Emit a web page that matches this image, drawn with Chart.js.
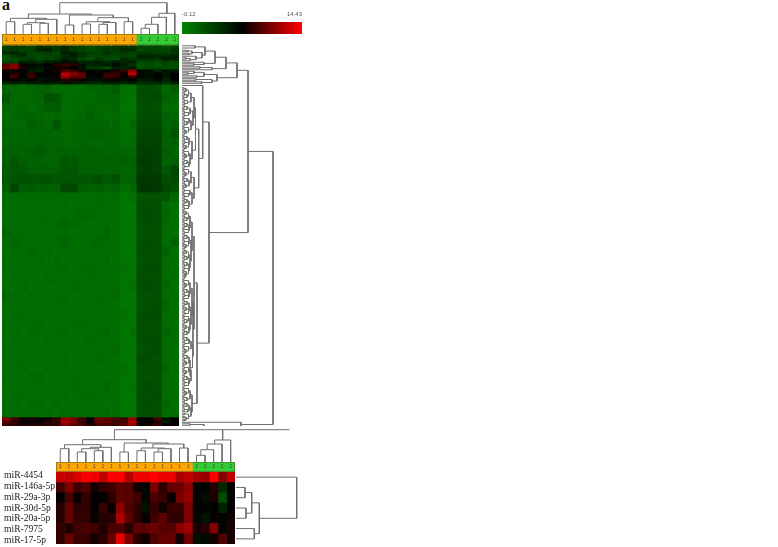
<!DOCTYPE html>
<html>
<head>
<meta charset="utf-8">
<title>miRNA heatmaps</title>
<script src="https://cdn.jsdelivr.net/npm/chart.js@4/dist/chart.umd.min.js"></script>
<style>
    html, body { margin: 0; padding: 0; background: #fff; width: 778px; height: 547px; overflow: hidden; }
    canvas { position: absolute; }
    #panel-letter { position: absolute; left: 2px; top: -4px; font: bold 16px "Liberation Serif", serif; color: #111; }
</style>
</head>
<body>
<div id="panel-letter">a</div>
<script>
// Data. Heat values are in the colour bar's units.
const scaleMin = -0.12;
const scaleMax = 14.43;

const sampleGroups = ['1','1','1','1','1','1','1','1','1','1','1','1','1','1','1','1','2','2','2','2','2'];
const groupColors = { '1': '#ffa500', '2': '#32cd32' };

const mirnaLabels = ['miR-4454', 'miR-146a-5p', 'miR-29a-3p', 'miR-30d-5p', 'miR-20a-5p', 'miR-7975', 'miR-17-5p'];
const mirnaValues = [
    [12.9,12.6,13.4,14.2,14.0,12.6,14.4,14.4,12.3,14.0,13.9,14.4,13.9,13.9,11.9,12.6,11.7,11.5,14.4,10.9,12.6],
    [9.0,10.8,9.0,9.4,7.8,8.6,9.0,9.8,9.6,7.6,6.6,10.6,8.4,10.0,10.2,11.2,6.9,6.9,8.2,4.6,7.0],
    [7.2,9.2,7.4,8.6,7.2,7.2,8.4,9.8,9.6,9.0,6.6,9.2,8.8,7.3,10.6,11.4,7.0,6.4,8.0,2.6,7.0],
    [8.2,10.0,8.4,8.6,7.2,8.8,7.4,11.2,9.4,8.4,6.0,8.6,7.6,8.8,8.8,10.8,7.0,6.8,7.0,5.2,7.1],
    [8.2,10.0,8.6,8.6,7.4,8.2,8.2,12.0,9.8,8.4,7.2,9.0,9.8,8.4,8.6,10.8,6.8,6.0,7.4,6.9,7.6],
    [8.6,8.0,9.0,9.2,9.0,8.0,9.2,9.4,8.2,9.8,9.8,10.2,9.6,9.6,11.0,11.8,7.8,8.2,10.8,7.0,7.8],
    [8.6,10.2,8.8,8.8,7.8,8.4,10.0,13.6,10.6,8.4,7.6,9.4,10.0,10.0,7.8,10.4,6.4,6.6,7.6,9.4,7.8]
];

// how many tree leaves each row of heatValues covers
const heatSpans = [2,2,2,2,2,2,2,2,2,2,2,2,2,
    6,6,6,6,6,6,6,6,6,6,6,6,6,6,6,6,6,6,6,6,6,6,6,6,6,6,6,6,6,6,6,6,6,6,6,6,6,
    2,2,2];
const heatValues = [
    [3.5,3.8,3.4,3.0,4.6,4.5,3.8,5.0,3.4,3.6,2.8,3.2,3.6,3.8,4.4,4.0,3.2,3.0,3.4,2.6,3.4],
    [3.4,3.6,3.0,3.4,5.0,5.2,3.9,4.8,3.6,3.2,2.6,3.0,3.8,3.6,4.8,4.6,2.8,3.2,3.0,2.8,4.0],
    [4.6,5.0,4.2,3.0,3.2,3.6,3.0,5.6,5.2,4.0,3.4,3.2,4.2,3.4,3.8,3.2,3.6,3.8,3.4,3.6,3.8],
    [2.4,4.0,4.6,3.2,2.8,3.0,3.2,4.4,5.4,4.2,3.0,2.8,3.6,3.0,3.2,2.8,5.2,5.0,4.8,4.6,5.2],
    [2.2,2.6,3.2,3.6,2.8,3.0,3.6,5.4,4.4,2.8,2.2,3.8,3.0,2.6,4.4,3.8,4.4,4.6,4.0,5.6,5.0],
    [3.0,3.4,5.2,5.0,4.2,5.4,5.8,6.4,6.0,4.8,5.0,5.4,4.6,5.6,5.0,5.2,2.6,3.0,2.6,3.2,2.8],
    [9.6,10.8,7.6,6.6,6.2,7.2,8.0,8.6,8.4,6.2,4.8,5.2,5.6,6.4,5.4,4.2,2.2,2.6,2.0,2.8,2.4],
    [10.0,11.0,8.0,6.2,5.8,6.4,7.6,7.8,7.2,6.0,3.8,3.6,2.8,5.4,4.8,5.6,2.4,3.0,3.2,2.6,2.8],
    [6.6,7.4,7.0,5.6,5.4,7.2,7.6,9.6,9.0,8.0,7.0,6.4,7.2,7.8,8.8,11.2,6.6,6.4,4.8,6.2,5.8],
    [7.2,8.4,7.0,8.6,7.0,6.8,7.4,12.4,11.2,9.6,7.4,7.0,8.6,8.8,7.6,12.6,6.8,6.4,7.2,6.0,7.2],
    [7.0,9.0,7.1,8.8,6.8,7.0,7.6,11.6,9.6,10.0,6.8,7.0,8.8,8.6,7.4,8.6,6.6,6.2,7.4,5.8,7.2],
    [6.8,7.2,6.4,7.2,6.2,6.4,6.6,8.2,7.8,7.4,6.4,6.0,6.8,7.0,6.2,7.0,5.8,5.6,6.6,5.0,6.8],
    [5.0,5.4,5.2,5.6,5.6,6.0,5.4,6.0,5.8,5.4,5.0,4.8,5.6,5.2,5.0,5.6,4.4,4.6,5.0,4.2,5.2],
    [1.2,1.0,.9,1.1,1.3,1.4,.8,.9,.8,.7,1.0,1.2,1.3,1.8,.5,.4,2.7,2.6,2.4,1.1,1.8],
    [2.0,1.1,.9,1.0,1.2,2.4,2.2,.8,.7,.9,.8,1.0,1.1,1.2,.4,.3,2.6,2.5,2.8,1.4,1.0],
    [1.2,.9,1.0,.8,1.1,1.6,1.8,.7,.9,.8,1.0,.9,1.0,1.1,.3,.3,2.4,2.5,2.3,.9,.7],
    [.9,1.0,1.3,1.4,1.0,.9,1.1,.8,.8,1.0,1.5,1.1,.8,.9,.4,.5,2.6,2.7,2.6,1.5,1.2],
    [1.0,1.1,.9,1.6,1.3,1.1,2.0,.9,1.0,1.2,1.0,1.3,1.0,1.0,.5,1.0,2.8,2.7,2.9,1.2,1.6],
    [1.3,1.1,1.0,1.2,1.1,1.2,1.1,1.0,1.1,1.0,1.4,1.6,1.2,1.1,.6,.8,3.1,3.0,3.0,1.5,2.2],
    [1.1,1.3,1.2,1.0,1.4,1.3,1.2,1.1,1.0,1.3,1.2,1.1,1.3,1.2,.7,.9,3.3,3.2,3.1,1.3,1.4],
    [1.6,1.4,1.3,1.6,1.9,1.4,1.3,1.5,1.4,1.3,1.5,1.4,1.2,1.3,1.0,1.2,3.4,3.5,3.2,1.6,1.2],
    [1.4,2.0,1.5,1.4,1.3,1.2,1.3,2.0,1.9,1.4,1.3,1.2,1.5,1.3,1.6,1.4,3.7,3.5,3.4,1.3,1.5],
    [1.8,2.1,1.9,1.5,1.6,1.4,1.5,2.1,2.0,1.6,1.5,1.4,1.3,1.4,1.0,1.2,3.4,3.5,3.3,2.0,3.0],
    [1.9,2.2,2.4,2.3,2.2,2.4,2.0,2.1,2.2,2.0,2.0,2.4,1.9,2.5,1.3,1.4,3.9,3.8,3.7,2.6,2.8],
    [1.5,3.0,1.8,1.7,1.6,1.5,1.6,3.0,2.9,1.6,1.4,1.6,1.3,1.5,.8,1.0,4.0,3.9,3.8,2.9,2.4],
    [.8,.8,.7,.9,.8,.7,.9,.7,.8,.7,.6,.8,.7,.8,.3,.6,2.2,2.4,2.2,2.0,1.0],
    [.7,.6,.8,.7,.6,.8,.7,.8,.6,.7,.8,.9,.7,.6,.2,.2,2.6,2.3,2.4,.8,.6],
    [.6,.7,.7,.6,.7,.8,.6,.7,.8,1.0,.9,.7,.6,.7,.3,.3,2.5,2.6,2.3,1.0,.5],
    [.7,.8,.6,.8,.9,.7,.9,1.1,.9,.7,.6,.8,.7,.6,.2,.3,2.4,2.4,2.5,.9,.7],
    [1.2,.7,.7,.7,.6,.8,.7,.7,.6,.7,.7,.6,1.1,.8,.3,.2,2.3,2.4,2.3,.8,.6],
    [.8,1.2,.9,.6,.7,.6,.8,1.3,.7,.6,.8,1.1,.9,.7,.3,.3,2.4,2.5,2.4,.7,1.4],
    [.6,.7,.8,1.0,.7,.7,.6,.7,.8,.7,.6,.7,.6,.7,.2,.2,2.5,2.3,2.4,1.4,.6],
    [.7,.6,.7,.7,.8,.6,.7,.6,.7,.8,.7,.6,.8,.6,.3,.2,2.3,2.4,2.3,.8,.7],
    [.8,.7,.6,.8,.7,.7,.9,.8,.6,.7,.9,.8,.6,.8,.4,.3,2.4,2.5,2.6,.9,.6],
    [.6,.8,.7,.7,.6,.9,.7,.6,.7,.6,.7,.7,.8,.6,.2,.3,2.6,2.4,2.4,.7,.8],
    [.7,.6,.9,.6,.8,.6,.6,.8,.9,.7,.6,.8,.6,.7,.3,.4,2.5,2.6,2.3,1.1,.6],
    [1.0,.8,.6,.8,.7,.8,.7,.7,.6,.8,.8,.7,.7,.9,.3,.2,2.4,2.3,2.5,.8,.7],
    [.7,.7,.8,.9,.6,.7,.8,.9,.7,.6,.7,.9,.8,.6,.2,.3,2.3,2.4,2.4,1.0,.6],
    [.6,.9,.7,.6,.7,.8,.6,.7,.8,.7,.6,.6,.7,.7,.4,.2,2.5,2.5,2.6,.7,.9],
    [.8,.6,.7,.7,.9,.6,.7,.6,.7,.9,.8,.7,.6,.8,.3,.3,2.6,2.4,2.3,.8,.6],
    [.7,.7,.6,.9,.7,.7,.9,.8,.6,.7,.7,.8,.9,.6,.2,.4,2.4,2.3,2.4,1.2,.7],
    [.6,.8,.8,.6,.6,.9,.7,.7,.8,.6,.9,.6,.7,.7,.3,.2,2.5,2.6,2.5,.7,.8],
    [.9,.7,.6,.7,.8,.6,.8,.6,.7,.8,.6,.7,.6,.9,.3,.3,2.3,2.4,2.6,.9,.6],
    [.7,.6,.7,.8,.7,.8,.6,.9,.6,.7,.7,.9,.8,.6,.2,.3,2.6,2.5,2.3,.8,.7],
    [.6,.8,.9,.6,.6,.7,.7,.7,.8,.6,.8,.6,.7,.7,.4,.2,2.4,2.4,2.4,1.1,.6],
    [.8,.7,.6,.7,.9,.6,.8,.6,.7,.9,.6,.7,.6,.8,.3,.3,2.5,2.3,2.5,.7,.8],
    [.7,.6,.8,.8,.7,.7,.6,.8,.9,.7,.7,.8,.9,.6,.2,.4,2.3,2.6,2.4,.9,.6],
    [.6,.9,.7,.6,.6,.8,.7,.7,.6,.8,.9,.6,.7,.7,.3,.2,2.6,2.4,2.6,.8,.7],
    [.9,.7,.6,.9,.8,.6,.9,.6,.7,.6,.6,.7,.6,.8,.3,.3,2.4,2.5,2.3,1.0,.6],
    [.7,.8,.7,.7,.6,.7,.6,.8,.7,.7,.8,.7,.8,.6,.2,.3,2.5,2.3,2.4,.7,.8],
    [10.8,9.2,7.6,8.0,7.4,7.6,8.6,11.2,10.6,9.0,7.4,10.2,9.8,9.4,8.8,11.4,7.2,7.4,9.2,6.0,7.1],
    [9.8,8.6,7.4,7.2,7.4,8.2,8.8,12.0,10.8,8.8,7.2,9.8,10.0,9.0,9.4,12.2,7.0,7.2,8.2,5.4,7.2],
    [8.8,8.4,7.8,8.0,8.2,8.4,8.6,10.8,9.8,9.2,8.0,9.0,9.2,8.8,9.6,11.4,7.2,7.8,8.8,7.4,7.4]
];

// Trees are nested [distance, left, right]. A bare number is a leaf and says how many row slots it covers.
const sampleTree = [31.3,
    [20,
        [15.7, [12.3,1,1], [14.7, [11.3,[9.7,1,1],[10.7,1,1]], 1]],
        [19, [9,1,1], [16.3, [12.3,[10,1,1],[11.5,[9.7,1,1],1]], [12.3,1,1]]]],
    [20.7, [16.7,[9.7,[5.7,1,1],1],1], 1]];

const mirnaSampleTree = [32.3,
    [22.3,
        [17.3, [13.3,1,1], [14.7,[13.3,[10,1,1],[11.3,1,1]],1]],
        [19, [10,1,1], [18, [14,[11.3,1,1],[13.3,[10,1,1],1]], [14,1,1]]]],
    [22, [18,[12.3,[6.7,1,1],1],1], 1]];
const mirnaRuleX = [19.6, 27.4];
const mirnaRuleY = [32.3, 32.3];

const mirnaRowTree = [60.7, 1, [23.3, [15.7,[9,1,1],[10,1,1]], [18.3,1,1]]];

// tiny leaf pairs used all over the long block of the row tree
const a = [2,1,1];
const b = [2.5,1,1];
const c = [3,1,1];

const rowTree = [91,
    [66,
        // upper cluster, the dark rows
        [55,
            [44,
                [33,
                    [23, [13,1,2], [20,[10,[6,1,1],[7,1,1]],[14,1,[8,[4,1,1],1]]]],
                    [22, 1, [12,1,1]]],
                [30, [18,1,1], 1]],
            [35,
                [22, [12,1,[6,1,1]], [15,1,1]],
                [30, [14,1,1], [20,1,1]]]],
        // the long green block
        [27,
            [20.7, 2,
                [16.7,
                    [13.5,
                        [12,[9,[6.5,[4,a,b],[5,c,a]],[5.5,b,c]],[11,[8,[5,b,a],[6.5,c,b]],[9,[7,a,[5,b,c]],[6.5,a,[4,c,b]]]]],
                        [10,[7,[5,a,b],[6.5,c,[4,a,b]]],[8,[6.5,a,[4,c,b]],[7,[5,b,a],c]]]],
                    [12,[9,[6.5,a,[4,b,c]],[7,[5,a,b],[4,c,a]]],[10,[8,b,[6.5,a,c]],[7,[5,b,c],[6.5,a,b]]]]]],
            [15,
                [12,
                    [10,[8,[6.5,[4,a,b],[5,c,a]],[7,[5,b,c],[6.5,a,b]]],[9,[7,[5,c,a],[6.5,b,[4,a,c]]],[8,[6.5,[4,b,a],[5,c,b]],[7,[5,a,c],[6.5,b,[4,a,[3.5,c,b]]]]]]],
                    [11,
                        [10,[8,[6.5,a,[4,b,c]],[7,[5,a,b],[6.5,c,a]]],[9,[7,[5,b,c],[6.5,[4,a,b],c]],[8,[6.5,a,[5,b,c]],[7,[4,a,b],[5,c,a]]]]],
                        [10.5,[9,[7,[5,a,b],c],[6.5,a,[4,b,c]]],[8,[7,[5,a,b],[4,c,a]],[9,[6.5,b,[4,a,c]],[7,[5,b,a],[6.5,c,b]]]]]]],
                [10,[8,[6.5,a,[4,b,c]],[5,a,b]],[9,[7,[5,c,a],[6,b,1]],[6.5,b,[4,a,c]]]]]]],
    // red rows at the bottom
    [59, 1, [22,[8,1,1],[14,[5,1,1],[6,1,1]]]]];

const treeColor = '#6f6f6f';
const serif = '"Liberation Serif", serif';

Chart.defaults.animation = false;
Chart.defaults.responsive = false;
Chart.defaults.plugins.legend.display = false;
Chart.defaults.plugins.tooltip.enabled = false;
Chart.defaults.layout.padding = 0;

function addCanvas(left, top, width, height) {
    const canvas = document.createElement('canvas');
    canvas.width = width;
    canvas.height = height;
    canvas.style.left = left + 'px';
    canvas.style.top = top + 'px';
    document.body.appendChild(canvas);
    return canvas;
}

// -0.12 is full green, the middle of the bar black, 14.43 full red
function heatColor(value) {
    const t = Math.min(1, Math.max(0, (value - scaleMin) / (scaleMax - scaleMin)));
    if (t < 0.5) return `rgb(0,${Math.round(122 * (1 - 2 * t))},0)`;
    return `rgb(${Math.round(255 * (2 * t - 1))},0,0)`;
}

// Walk a tree and give back the bracket path, with gaps between brackets
function treePath(tree) {
    const path = [];
    let slot = 0;
    function walk(node) {
        if (typeof node === 'number') {
            const pos = slot + node / 2;
            slot += node;
            return { pos: pos, height: 0 };
        }
        const left = walk(node[1]);
        const right = walk(node[2]);
        path.push([left.pos, left.height], [left.pos, node[0]], [right.pos, node[0]], [right.pos, right.height], [null, null]);
        return { pos: (left.pos + right.pos) / 2, height: node[0] };
    }
    walk(tree);
    return path;
}

function treeDataset(points) {
    return { data: points, showLine: true, spanGaps: false, borderColor: treeColor, borderWidth: 1, pointRadius: 0, clip: false };
}

function hiddenLinear(min, max, reverse) {
    return { type: 'linear', display: false, min: min, max: max, reverse: !!reverse };
}

function columnTree(canvas, tree, xMax, yMax, extra) {
    const points = treePath(tree).map(p => ({ x: p[0], y: p[1] }));
    const datasets = [treeDataset(points)];
    if (extra) datasets.push(treeDataset(extra));
    return new Chart(canvas, {
        type: 'scatter',
        data: { datasets: datasets },
        options: { scales: { x: hiddenLinear(0, xMax), y: hiddenLinear(0, yMax) } }
    });
}

function rowDendrogram(canvas, tree, xMax, yMax) {
    const points = treePath(tree).map(p => ({ x: p[1], y: p[0] }));
    return new Chart(canvas, {
        type: 'scatter',
        data: { datasets: [treeDataset(points)] },
        options: { scales: { x: hiddenLinear(0, xMax), y: hiddenLinear(0, yMax, true) } }
    });
}

// Small group numbers and the thin outline on the coloured sample strip
function sampleStrip(bandHeight, xOf) {
    return {
        id: 'sampleStrip',
        afterDatasetsDraw(chart) {
            const { ctx, chartArea } = chart;
            ctx.save();
            ctx.strokeStyle = 'rgba(90,90,50,0.55)';
            ctx.lineWidth = 1;
            ctx.strokeRect(chartArea.left + 0.5, chartArea.top + 0.5, chartArea.width - 1, bandHeight - 1);
            ctx.fillStyle = '#444';
            ctx.font = '5px "Liberation Sans", sans-serif';
            ctx.textAlign = 'center';
            ctx.textBaseline = 'middle';
            sampleGroups.forEach((group, i) => {
                ctx.fillText(group, xOf(chart, i), chartArea.top + bandHeight / 2);
            });
            ctx.restore();
        }
    };
}

// colour bar, top right
new Chart(addCanvas(182, 8, 120, 26), {
    type: 'bar',
    data: {
        labels: ['scale'],
        datasets: [{
            data: [[scaleMin, scaleMax]],
            barPercentage: 1,
            categoryPercentage: 1,
            backgroundColor(context) {
                const area = context.chart.chartArea;
                if (!area) return '#000';
                const gradient = context.chart.ctx.createLinearGradient(area.left, 0, area.right, 0);
                gradient.addColorStop(0, 'rgb(0,130,0)');
                gradient.addColorStop(0.5, '#000');
                gradient.addColorStop(1, 'rgb(255,0,0)');
                return gradient;
            }
        }]
    },
    options: {
        indexAxis: 'y',
        scales: {
            x: {
                type: 'linear',
                position: 'top',
                min: scaleMin,
                max: scaleMax,
                grid: { display: false, drawTicks: false },
                border: { display: false },
                afterBuildTicks(scale) { scale.ticks = [{ value: scaleMin }, { value: scaleMax }]; },
                afterFit(scale) {
                    scale.height = 14;
                    scale.paddingLeft = 0;
                    scale.paddingRight = 0;
                },
                ticks: {
                    autoSkip: false,
                    align: 'inner',
                    maxRotation: 0,
                    padding: 4,
                    color: '#555',
                    font: { size: 6, family: '"Liberation Sans", sans-serif' },
                    callback: value => value.toFixed(2)
                }
            },
            y: { display: false }
        }
    }
});

// big heatmap: stacked columns, one stack segment per band of rows
const stripSpan = 7.4;
const heatTotal = heatSpans.reduce((sum, span) => sum + span, 0) + stripSpan;

function heatBand(span, colors) {
    return { data: sampleGroups.map(() => span), backgroundColor: colors, barPercentage: 1, categoryPercentage: 1 };
}

columnTree(addCanvas(2, 2, 177, 32), sampleTree, 21, 32);

new Chart(addCanvas(2, 34, 177, 392), {
    type: 'bar',
    data: {
        labels: sampleGroups.map((_, i) => 'S' + (i + 1)),
        datasets: [heatBand(stripSpan, sampleGroups.map(g => groupColors[g]))]
            .concat(heatValues.map((row, i) => heatBand(heatSpans[i], row.map(heatColor))))
    },
    options: {
        scales: {
            x: { display: false, stacked: true },
            y: { type: 'linear', display: false, stacked: true, reverse: true, min: 0, max: heatTotal }
        }
    },
    plugins: [sampleStrip(11, (chart, i) => chart.scales.x.getPixelForValue(i))]
});

rowDendrogram(addCanvas(182, 45, 96, 381), rowTree, 96, 254);

// lower heatmap
const mirnaRuleLine = mirnaRuleX.map((x, i) => ({ x: x, y: mirnaRuleY[i] }));
columnTree(addCanvas(56, 428, 234, 34), mirnaSampleTree, 27.47, 34, mirnaRuleLine);

new Chart(addCanvas(56, 462, 179, 82), {
    type: 'bar',
    data: {
        labels: ['group'].concat(mirnaLabels),
        datasets: sampleGroups.map((group, col) => ({
            data: [1].concat(mirnaValues.map(() => 1)),
            backgroundColor: [groupColors[group]].concat(mirnaValues.map(row => heatColor(row[col]))),
            barPercentage: 1,
            categoryPercentage: 1
        }))
    },
    options: {
        indexAxis: 'y',
        scales: {
            x: { type: 'linear', display: false, stacked: true, min: 0, max: sampleGroups.length },
            y: { display: false, stacked: true }
        }
    },
    plugins: [sampleStrip(10, (chart, i) => chart.scales.x.getPixelForValue(i + 0.5))]
});

// the names sit on their own axis: in the picture they are spaced wider than the rows
new Chart(addCanvas(4, 470, 60, 76), {
    type: 'bar',
    data: { labels: mirnaLabels, datasets: [] },
    options: {
        indexAxis: 'y',
        scales: {
            x: { display: false },
            y: {
                grid: { display: false },
                border: { display: false },
                afterFit(scale) {
                    scale.width = 54;
                    scale.paddingTop = 0;
                    scale.paddingBottom = 0;
                },
                ticks: {
                    autoSkip: false,
                    crossAlign: 'far',
                    padding: 0,
                    color: '#1a1a1a',
                    font: { size: 9.6, family: serif }
                }
            }
        }
    }
});

rowDendrogram(addCanvas(236, 472, 64, 72), mirnaRowTree, 64, 7);
</script>
</body>
</html>
